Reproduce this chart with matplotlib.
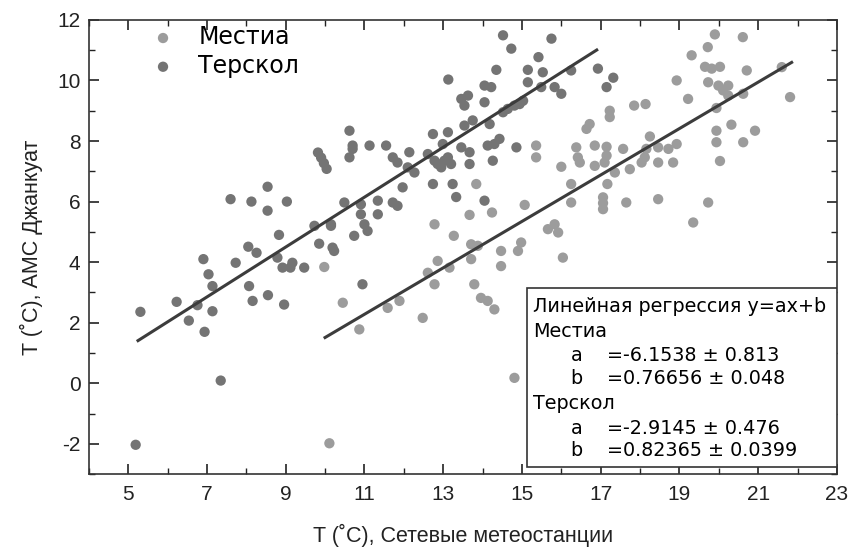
import numpy as np
import matplotlib
matplotlib.use("Agg")
import matplotlib.pyplot as plt
from matplotlib.patches import Rectangle
from matplotlib.ticker import MultipleLocator

plt.rcParams['font.family'] = ['Liberation Sans', 'DejaVu Sans']
plt.rcParams['axes.unicode_minus'] = False
box_font = ['DejaVu Sans']

# Терскол (тёмные точки, верхнее облако)
terskol_x = [5.31, 6.23, 6.54, 6.76, 6.94, 7.14, 6.91, 7.04, 7.14, 7.60, 7.73, 8.05, 8.26, 8.07,
             8.13, 8.16, 8.54, 8.54, 8.55, 8.83, 8.79, 8.96, 9.03, 8.92, 9.17, 9.12, 9.47, 9.73,
             9.85, 10.15, 10.19, 9.82, 9.90, 9.97, 10.04, 14.52, 14.73, 15.75, 15.42, 14.35, 15.15,
             15.53, 13.13, 14.05, 14.22, 15.15, 15.49, 15.83, 16.00, 13.46, 13.63, 13.54, 14.05,
             14.64, 14.81, 14.52, 14.94, 15.03, 13.54, 13.75, 14.18, 10.62, 12.74, 13.12, 10.70,
             10.70, 10.62, 11.13, 11.55, 11.72, 11.84, 12.14, 12.27, 12.10, 12.61, 12.78, 12.95,
             13.03, 13.12, 12.86, 13.20, 12.99, 13.46, 13.67, 13.67, 14.13, 14.30, 14.43, 14.86,
             14.26, 11.97, 12.74, 13.24, 13.33, 14.05, 11.34, 11.72, 11.84, 10.91, 10.49, 11.34,
             10.91, 10.15, 10.23, 11.00, 11.08, 10.74, 10.95, 7.35, 5.19, 16.93, 16.25, 17.32, 17.15]
terskol_y = [2.36, 2.69, 2.07, 2.58, 1.70, 2.38, 4.10, 3.60, 3.21, 6.08, 3.98, 4.51, 4.31, 3.21,
             6.00, 2.72, 6.49, 5.70, 2.91, 4.90, 4.15, 2.60, 6.00, 3.82, 3.98, 3.82, 3.82, 5.20,
             4.61, 5.20, 4.48, 7.62, 7.45, 7.27, 7.08, 11.49, 11.05, 11.38, 10.77, 10.35, 10.35,
             10.27, 10.03, 9.83, 9.78, 9.94, 9.78, 9.78, 9.56, 9.39, 9.50, 9.17, 9.28,
             9.06, 9.17, 8.95, 9.22, 9.33, 8.51, 8.68, 8.56, 8.34, 8.23, 8.29, 7.85,
             7.74, 7.46, 7.85, 7.85, 7.46, 7.29, 7.63, 6.96, 7.13, 7.57, 7.35, 7.13,
             7.35, 7.46, 7.24, 7.24, 7.90, 7.79, 7.63, 7.24, 7.85, 7.90, 8.07, 7.79,
             7.35, 6.47, 6.58, 6.58, 6.15, 6.03, 6.03, 5.97, 5.86, 5.91, 5.97, 5.58,
             5.58, 5.25, 4.37, 5.25, 5.03, 4.87, 3.27, 0.09, -2.03, 10.39, 10.33, 10.09, 9.78]

# Местиа (светлые точки, нижнее облако)
mestia_x = [9.98, 15.36, 15.36, 16.00, 13.84, 15.07, 13.67, 14.24, 12.78, 13.27, 13.71, 13.88,
            13.71, 12.86, 13.16, 12.61, 12.78, 13.79, 14.47, 14.47, 14.90, 14.98, 15.66, 15.83,
            15.92, 10.45, 11.89, 11.59, 12.48, 13.96, 14.13, 14.30, 10.87, 14.81, 10.11,
            19.90, 20.61, 19.72, 19.31, 19.65, 19.82, 20.03, 20.71, 21.60, 21.81, 18.93, 19.73,
            19.99, 20.24, 20.11, 20.24, 20.62, 19.22, 19.94, 17.85, 18.14, 17.23, 17.23, 16.72,
            16.64, 20.32, 20.92, 19.94, 19.94, 20.62, 18.25, 20.03, 16.85, 17.15, 17.57, 16.38,
            16.42, 16.47, 17.15, 17.10, 16.85, 18.16, 18.12, 18.04, 18.46, 18.72, 18.93, 18.46,
            18.84, 17.74, 17.36, 16.25, 17.17, 16.25, 17.06, 17.06, 17.06, 17.65, 18.46, 19.73,
            19.35, 16.04]
mestia_y = [3.84, 7.85, 7.46, 7.15, 6.58, 5.89, 5.56, 5.64, 5.25, 4.87, 4.59, 4.54,
            4.10, 4.04, 3.82, 3.65, 3.27, 3.27, 4.37, 3.87, 4.37, 4.65, 5.09, 5.25,
            4.98, 2.66, 2.72, 2.49, 2.16, 2.82, 2.72, 2.44, 1.78, 0.18, -1.98,
            11.52, 11.43, 11.10, 10.83, 10.45, 10.39, 10.45, 10.33, 10.44, 9.45, 10.00, 9.94,
            9.83, 9.83, 9.67, 9.50, 9.56, 9.39, 9.09, 9.17, 9.22, 9.00, 8.79, 8.56,
            8.40, 8.54, 8.34, 8.34, 7.96, 7.96, 8.15, 7.34, 7.85, 7.81, 7.74, 7.79,
            7.46, 7.29, 7.52, 7.29, 7.18, 7.74, 7.46, 7.29, 7.79, 7.74, 7.90, 7.29,
            7.29, 7.07, 6.96, 6.58, 6.58, 5.97, 6.14, 5.95, 5.75, 5.97, 6.08, 5.97,
            5.31, 4.15]

# линейная регрессия y = a + b*x
mestia_a, mestia_b = -6.1538, 0.76656
terskol_a, terskol_b = -2.9145, 0.82365
mestia_span = [10.0, 21.85]
terskol_span = [5.25, 16.9]

fig = plt.figure(figsize=(8.54, 5.52), dpi=100)
ax = fig.add_axes([0.104, 0.141, 0.876, 0.823])

ax.scatter(mestia_x, mestia_y, s=55, color='#9c9c9c', edgecolors='none', label='Местиа', zorder=2)
ax.scatter(terskol_x, terskol_y, s=55, color='#747474', edgecolors='none', label='Терскол', zorder=2)

xm = np.array(mestia_span)
xt = np.array(terskol_span)
ax.plot(xm, mestia_a + mestia_b * xm, color='#3c3c3c', lw=2.2, zorder=3)
ax.plot(xt, terskol_a + terskol_b * xt, color='#3c3c3c', lw=2.2, zorder=3)

ax.set_xlim(4, 23)
ax.set_ylim(-3, 12)
ax.set_xticks(np.arange(5, 24, 2))
ax.set_yticks(np.arange(-2, 13, 2))
ax.xaxis.set_minor_locator(MultipleLocator(1))
ax.yaxis.set_minor_locator(MultipleLocator(1))
ax.tick_params(which='both', direction='in', top=True, right=True, labelsize=15, colors='#222222')
ax.tick_params(which='major', length=7, width=1.2)
ax.tick_params(axis='x', which='major', pad=8)
ax.tick_params(axis='y', which='major', pad=6)
ax.tick_params(which='minor', length=4, width=1.0)
for sp in ax.spines.values():
    sp.set_linewidth(1.2)
    sp.set_color('#333333')

ax.set_xlabel('T (˚C), Сетевые метеостанции', fontsize=15.5, labelpad=14, color='#222222')
ax.set_ylabel('T (˚C), АМС Джанкуат', fontsize=15.5, labelpad=10, color='#222222')

ax.legend(loc='upper left', bbox_to_anchor=(0.055, 1.035), frameon=False,
          prop={'family': box_font, 'size': 17}, handlelength=1.0,
          handletextpad=1.0, labelspacing=0.2, scatterpoints=1)

# рамка с коэффициентами
ax.add_patch(Rectangle((0.586, 0.015), 0.414, 0.395, transform=ax.transAxes,
                       fill=True, facecolor='white', edgecolor='#333333', lw=1.2, zorder=4))
fs = 13.8
ax.text(0.594, 0.370, 'Линейная регрессия y=ax+b', transform=ax.transAxes, fontsize=fs,
        family=box_font, va='center', zorder=5)
ax.text(0.594, 0.313, 'Местиа', transform=ax.transAxes, fontsize=fs, family=box_font, va='center', zorder=5)
ax.text(0.594, 0.156, 'Терскол', transform=ax.transAxes, fontsize=fs, family=box_font, va='center', zorder=5)
rows = [('a', '=-6.1538 ± 0.813', 0.262), ('b', '=0.76656 ± 0.048', 0.211),
        ('a', '=-2.9145 ± 0.476', 0.101), ('b', '=0.82365 ± 0.0399', 0.053)]
for name, val, yy in rows:
    ax.text(0.644, yy, name, transform=ax.transAxes, fontsize=fs, family=box_font, va='center', zorder=5)
    ax.text(0.692, yy, val, transform=ax.transAxes, fontsize=fs, family=box_font, va='center', zorder=5)

fig.savefig('out.png', dpi=100)
